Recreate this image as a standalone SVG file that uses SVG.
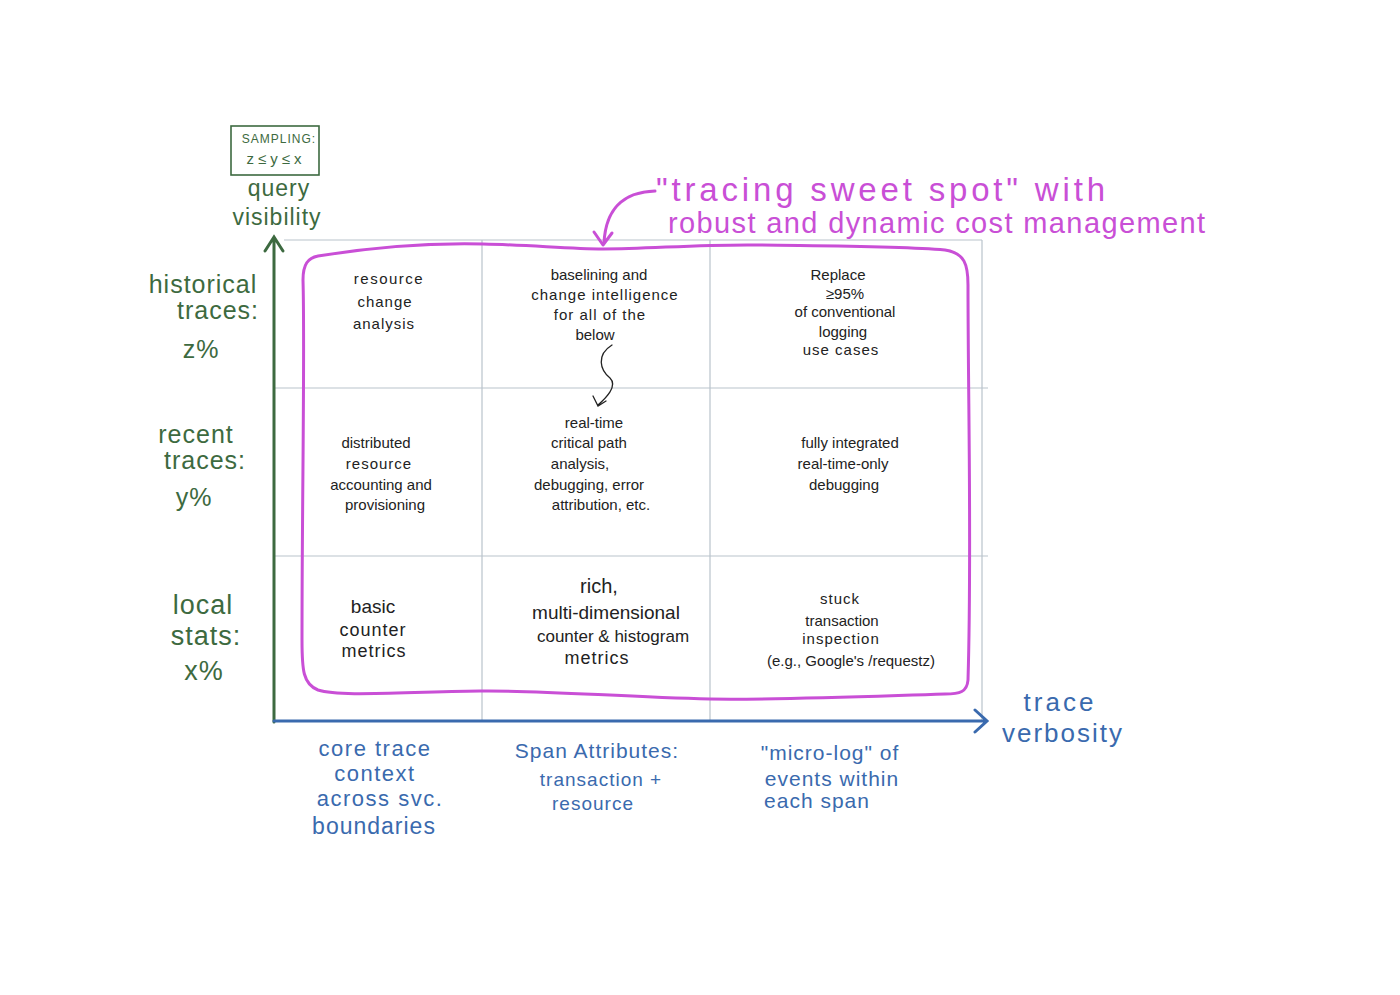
<svg xmlns="http://www.w3.org/2000/svg" width="1400" height="995" viewBox="0 0 1400 995">
<style>
.grid{stroke:#b9c3cc;stroke-width:1.2;fill:none}
.g{fill:#3d6a40;font-family:"Liberation Sans",sans-serif;text-anchor:middle}
.b{fill:#3a6aae;font-family:"Liberation Sans",sans-serif;text-anchor:middle}
.k{fill:#222;font-family:"Liberation Sans",sans-serif;text-anchor:middle;font-size:15px}
.p{fill:#c94fd6;font-family:"Liberation Sans",sans-serif}
.pl{stroke:#c94fd6;stroke-width:3;fill:none;stroke-linecap:round;stroke-linejoin:round}
</style>
<rect width="1400" height="995" fill="#fff"/>
<g id="grid">
<line class="grid" x1="284" y1="240" x2="982" y2="240"/>
<line class="grid" x1="482" y1="240" x2="482" y2="720"/>
<line class="grid" x1="710" y1="240" x2="710" y2="720"/>
<line class="grid" x1="982" y1="240" x2="982" y2="720"/>
<line class="grid" x1="274" y1="388" x2="988" y2="388"/>
<line class="grid" x1="274" y1="556" x2="988" y2="556"/>
</g>
<g id="connectors">
<path d="M274 722 V238 M265 251 L274 237 L283 251" stroke="#3d6a40" stroke-width="3" fill="none" stroke-linecap="round"/>
<path d="M274 721 H985 M975 710 L987 721 L975 732" stroke="#3a6aae" stroke-width="3" fill="none" stroke-linecap="round"/>
<path class="pl" d="M655 191 C630 192 606 202 604 243 M594 232 L603 245 L612 233"/>
<path d="M612 345 C596 355 600 370 610 378 C618 386 606 398 598 405 M593 396 L598 406 L606 401" stroke="#222" stroke-width="1.3" fill="none" stroke-linecap="round"/>
</g>
<g id="sweet-spot">
<path class="pl" d="M318 256 C380 246 440 243 483 244 C530 245 570 249 603 249 C650 249 700 244 760 245 C830 246 900 246 945 250 C965 253 968 265 968 285 C968 400 972 550 968 680 C967 692 960 694 945 694 C850 697 780 700 710 699 C620 697 540 690 480 691 C400 692 340 697 318 690 C303 684 302 670 302 640 C302 500 305 350 303 280 C303 264 308 258 318 256 Z"/>
<text class="p" x="656" y="201" font-size="33" textLength="449" lengthAdjust="spacing">"tracing sweet spot" with</text>
<text class="p" x="668" y="233" font-size="29" textLength="537" lengthAdjust="spacing">robust and dynamic cost management</text>
</g>
<g id="sampling">
<rect x="231" y="126" width="88" height="49" fill="none" stroke="#3d6a40" stroke-width="1.6"/>
<text class="g" x="279" y="143" font-size="12" letter-spacing="1">SAMPLING:</text>
<text class="g" x="276" y="164" font-size="15" letter-spacing="4">z≤y≤x</text>
</g>
<g id="y-axis-label">
<text class="g" x="279" y="196" font-size="23" letter-spacing="1">query</text>
<text class="g" x="277" y="225" font-size="23" letter-spacing="1">visibility</text>
</g>
<g id="row-historical">
<text class="g" x="203" y="293" font-size="25" letter-spacing="1">historical</text>
<text class="g" x="218" y="319" font-size="25" letter-spacing="1">traces:</text>
<text class="g" x="201" y="358" font-size="25" letter-spacing="1">z%</text>
</g>
<g id="row-recent">
<text class="g" x="196" y="443" font-size="25" letter-spacing="1">recent</text>
<text class="g" x="205" y="469" font-size="25" letter-spacing="1">traces:</text>
<text class="g" x="194" y="506" font-size="25" letter-spacing="1">y%</text>
</g>
<g id="row-local">
<text class="g" x="203" y="614" font-size="27" letter-spacing="1">local</text>
<text class="g" x="206" y="645" font-size="27" letter-spacing="1">stats:</text>
<text class="g" x="204" y="680" font-size="27" letter-spacing="1">x%</text>
</g>
<g id="cell-1-1">
<text class="k" x="389" y="284" letter-spacing="1.5">resource</text>
<text class="k" x="385" y="307" letter-spacing="1">change</text>
<text class="k" x="384" y="329" letter-spacing="1">analysis</text>
</g>
<g id="cell-1-2">
<text class="k" x="599" y="280">baselining and</text>
<text class="k" x="605" y="300" letter-spacing="1">change intelligence</text>
<text class="k" x="600" y="320" letter-spacing="1">for all of the</text>
<text class="k" x="595" y="340">below</text>
</g>
<g id="cell-1-3">
<text class="k" x="838" y="280">Replace</text>
<text class="k" x="845" y="299">≥95%</text>
<text class="k" x="845" y="317">of conventional</text>
<text class="k" x="843" y="337">logging</text>
<text class="k" x="841" y="355" letter-spacing="1">use cases</text>
</g>
<g id="cell-2-1">
<text class="k" x="376" y="448">distributed</text>
<text class="k" x="379" y="469" letter-spacing="1">resource</text>
<text class="k" x="381" y="490">accounting and</text>
<text class="k" x="385" y="510">provisioning</text>
</g>
<g id="cell-2-2">
<text class="k" x="594" y="428">real-time</text>
<text class="k" x="589" y="448">critical path</text>
<text class="k" x="580" y="469">analysis,</text>
<text class="k" x="589" y="490">debugging, error</text>
<text class="k" x="601" y="510">attribution, etc.</text>
</g>
<g id="cell-2-3">
<text class="k" x="850" y="448">fully integrated</text>
<text class="k" x="843" y="469">real-time-only</text>
<text class="k" x="844" y="490">debugging</text>
</g>
<g id="cell-3-1">
<text class="k" x="373" y="613" style="font-size:19px">basic</text>
<text class="k" x="373" y="636" style="font-size:18px" letter-spacing="1">counter</text>
<text class="k" x="374" y="657" style="font-size:18px" letter-spacing="1">metrics</text>
</g>
<g id="cell-3-2">
<text class="k" x="599" y="593" style="font-size:20px">rich,</text>
<text class="k" x="606" y="619" style="font-size:19px">multi-dimensional</text>
<text class="k" x="613" y="642" style="font-size:17px">counter &amp; histogram</text>
<text class="k" x="597" y="664" style="font-size:18px" letter-spacing="1">metrics</text>
</g>
<g id="cell-3-3">
<text class="k" x="840" y="604" letter-spacing="1">stuck</text>
<text class="k" x="842" y="626">transaction</text>
<text class="k" x="841" y="644" letter-spacing="1">inspection</text>
<text class="k" x="851" y="666">(e.g., Google's /requestz)</text>
</g>
<g id="x-labels">
<text class="b" x="375" y="756" font-size="22" letter-spacing="1.5">core trace</text>
<text class="b" x="375" y="781" font-size="22" letter-spacing="1.5">context</text>
<text class="b" x="380" y="806" font-size="22" letter-spacing="1.5">across svc.</text>
<text class="b" x="374" y="834" font-size="23" letter-spacing="1">boundaries</text>
<text class="b" x="597" y="758" font-size="21" letter-spacing="1">Span Attributes:</text>
<text class="b" x="601" y="786" font-size="19" letter-spacing="1">transaction +</text>
<text class="b" x="593" y="810" font-size="19" letter-spacing="1">resource</text>
<text class="b" x="830" y="760" font-size="21" letter-spacing="1">"micro-log" of</text>
<text class="b" x="832" y="786" font-size="21" letter-spacing="1">events within</text>
<text class="b" x="817" y="808" font-size="21" letter-spacing="1">each span</text>
</g>
<g id="x-axis-label">
<text class="b" x="1060" y="711" font-size="26" letter-spacing="3">trace</text>
<text class="b" x="1063" y="742" font-size="26" letter-spacing="2">verbosity</text>
</g>
</svg>
